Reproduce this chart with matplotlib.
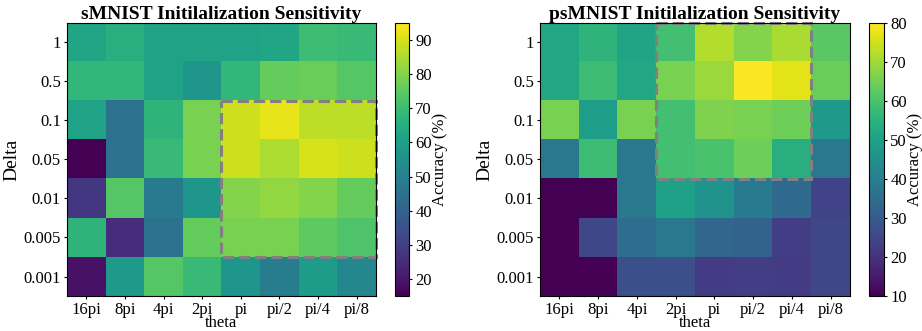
import numpy as np
import matplotlib
matplotlib.use("Agg")
import matplotlib.pyplot as plt
from matplotlib.patches import Rectangle

plt.rcParams['font.family'] = ['Liberation Serif', 'DejaVu Serif']

theta_labels = ["16pi", "8pi", "4pi", "2pi", "pi", "pi/2", "pi/4", "pi/8"]
delta_labels = ["1", "0.5", "0.1", "0.05", "0.01", "0.005", "0.001"]

# accuracy (%) rows = delta, cols = theta
smnist_acc = np.array([
    [62, 65, 61, 61, 61, 62, 70, 69],
    [68, 68, 61, 57, 68, 76, 77, 74],
    [61, 45, 67, 79, 89, 92, 87, 87],
    [15, 45, 69, 79, 89, 85, 90, 89],
    [28, 74, 48, 57, 80, 82, 80, 76],
    [67, 25, 45, 76, 79, 79, 75, 73],
    [19, 58, 74, 69, 57, 49, 59, 52],
])

psmnist_acc = np.array([
    [52, 55.5, 51, 59, 72, 67, 71, 62],
    [52, 58, 52, 66, 69.5, 79.5, 77, 64],
    [66, 49, 66, 59, 66.5, 66, 64.5, 48],
    [38, 58, 38, 59, 60, 64.5, 54, 38],
    [10, 10, 38, 50, 46, 39, 34, 24],
    [10, 25, 35, 38, 33, 32, 23, 25],
    [10, 10, 27, 27, 22.5, 23, 22.5, 25],
])

# highlighted regions: (first theta idx, first delta idx, n theta, n delta)
smnist_box = (4, 2, 4, 4)
psmnist_box = (3, 0, 4, 4)

fig = plt.figure(figsize=(9.22, 3.31), dpi=100)


def draw_panel(ax_rect, cb_rect, data, title, vmin, vmax, box):
    ax = fig.add_axes(ax_rect)
    cax = fig.add_axes(cb_rect)
    im = ax.imshow(data, cmap="viridis", aspect="auto", vmin=vmin, vmax=vmax)
    ax.set_xticks(range(len(theta_labels)))
    ax.set_xticklabels(theta_labels)
    ax.set_yticks(range(len(delta_labels)))
    ax.set_yticklabels(delta_labels)
    ax.tick_params(labelsize=12, length=2.5, pad=2)
    ax.set_xlabel("theta", fontsize=12, labelpad=-2.5)
    ax.set_ylabel("Delta", fontsize=14, labelpad=2)
    ax.set_title(title, fontsize=14, fontweight="bold", pad=3)
    x0, y0, w, h = box
    rect = Rectangle((x0 - 0.5, y0 - 0.5), w, h, fill=False, edgecolor="grey",
                     linestyle="--", linewidth=2.2, clip_on=False)
    ax.add_patch(rect)
    cb = fig.colorbar(im, cax=cax)
    cb.set_label("Accuracy (%)", fontsize=12, labelpad=0)
    cb.ax.tick_params(labelsize=12, length=2.5, pad=2)
    cb.outline.set_linewidth(0.8)
    return ax


draw_panel([0.0727, 0.1057, 0.335, 0.825], [0.4284, 0.1057, 0.0152, 0.825],
           smnist_acc, "sMNIST Initilalization Sensitivity", 15, 95, smnist_box)
draw_panel([0.5857, 0.1057, 0.3362, 0.825], [0.9425, 0.1057, 0.0163, 0.825],
           psmnist_acc, "psMNIST Initilalization Sensitivity", 10, 80, psmnist_box)

fig.savefig("out.png", dpi=100)
